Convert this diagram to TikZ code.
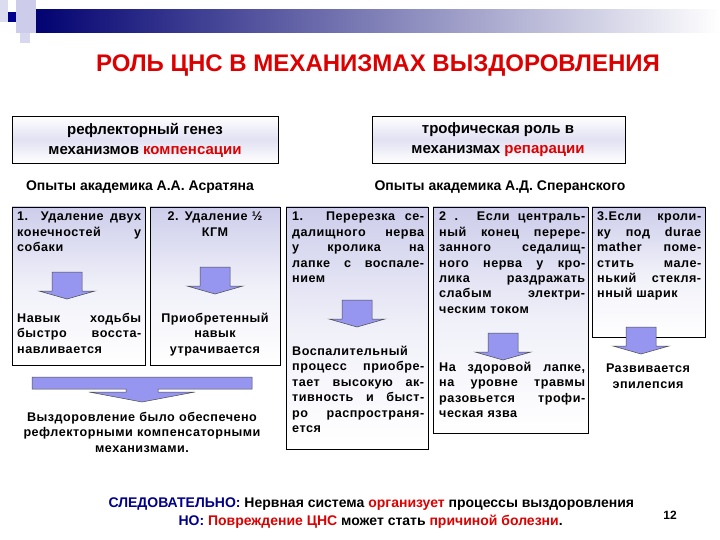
\documentclass[tikz,border=0pt]{standalone}
\usepackage{fontspec}
\setmainfont{Liberation Sans}
\definecolor{lav}{RGB}{205,205,235}
\definecolor{arr}{RGB}{150,150,240}
\definecolor{navy}{RGB}{0,0,140}
\definecolor{rd}{RGB}{220,0,0}
\newcommand\lb{\linebreak}
\begin{document}
\begin{tikzpicture}[x=1pt,y=-1pt,
  box/.style={draw=black,line width=0.8pt,top color=lav,bottom color=white,middle color=white!70!lav},
  hbox/.style={draw=black,line width=0.8pt,top color=white,bottom color=white,middle color=lav!60},
  txt/.style={font=\fontsize{12.6}{15.4}\selectfont\bfseries\addfontfeature{LetterSpace=4},align=justify,anchor=north west,inner sep=0pt},
  ctxt/.style={font=\fontsize{12.6}{15.4}\selectfont\bfseries\addfontfeature{LetterSpace=4},align=center,anchor=north,inner sep=0pt},
  darr/.pic={\draw[draw=black!70,fill=arr,line width=0.5pt] (-15,-14) -- (15,-14) -- (15,5) -- (28,5) -- (0,13) -- (-28,5) -- (-15,5) -- cycle;}]
\useasboundingbox (0,0) rectangle (720,540);
\fill[white] (0,0) rectangle (720,540);
% header
\shade[left color=navy!80!black,right color=white] (30,10) rectangle (720,33);
\fill[lav!70] (0,0) rectangle (8,22);
\fill[lav] (16,0) rectangle (36,33);
\fill[navy] (8,12) rectangle (16,22);
\fill[lav!80] (20,33) rectangle (30,43);
\node[font=\fontsize{24}{26}\selectfont\bfseries,text=rd] (title) at (378,66) {РОЛЬ ЦНС В МЕХАНИЗМАХ ВЫЗДОРОВЛЕНИЯ};
% headers
\draw[hbox] (12,116) rectangle (278,163);
\node[font=\fontsize{15}{20}\selectfont\bfseries,align=center] (ha) at (145,140) {рефлекторный генез\\механизмов \textcolor{rd}{компенсации}};
\draw[hbox] (372,116) rectangle (625,163);
\node[font=\fontsize{15}{20}\selectfont\bfseries,align=center] (hb) at (498,140) {трофическая роль в\\механизмах \textcolor{rd}{репарации}};
\node[font=\fontsize{14}{16}\selectfont\bfseries] (la) at (140,187) {Опыты академика А.А. Асратяна};
\node[font=\fontsize{14}{16}\selectfont\bfseries] (lb) at (500,187) {Опыты академика А.Д. Сперанского};
% boxes
\draw[box] (12,207) rectangle (145,365);
\draw[box] (150,207) rectangle (280,365);
\draw[box] (286,207) rectangle (428,449);
\draw[box] (433,207) rectangle (588,433);
\draw[box] (592,207) rectangle (705,337);
% box1
\node[txt,text width=124] (t1) at (17,212) {1. Удаление двух\lb конечностей у\lb собаки};
\pic at (67,286) {darr};
\node[txt,text width=124] (r1) at (17,313) {Навык ходьбы\lb быстро восста-\lb навливается};
% box2
\node[ctxt,text width=124] (t2) at (215,212) {2. Удаление ½\\КГМ};
\pic at (215,281) {darr};
\node[ctxt,text width=124] (r2) at (215,313) {Приобретенный\\навык\\утрачивается};
% box3
\node[txt,text width=132] (t3) at (292,212) {1. Перерезка се-\lb далищного нерва\lb у кролика на\lb лапке с воспале-\lb нием};
\pic at (357,314) {darr};
\node[txt,text width=132] (r3) at (292,346) {Воспалительный\lb процесс приобре-\lb тает высокую ак-\lb тивность и быст-\lb ро распространя-\lb ется};
% box4
\node[txt,text width=146] (t4) at (439,212) {2 . Если централь-\lb ный конец перере-\lb занного седалищ-\lb ного нерва у кро-\lb лика раздражать\lb слабым электри-\lb ческим током};
\pic at (503,347) {darr};
\node[txt,text width=146] (r4) at (439,362) {На здоровой лапке,\lb на уровне травмы\lb разовьется трофи-\lb ческая язва};
% box5
\node[txt,text width=104] (t5) at (597,212) {3.Если кроли-\lb ку под durae\lb mather поме-\lb стить мале-\lb нький стекля-\lb нный шарик};
\pic at (641,341) {darr};
\node[ctxt,text width=110] (r5) at (648,364) {Развивается\\эпилепсия};
% big arrow
\draw[draw=black!70,fill=arr,line width=0.5pt] (32,377) -- (252,377) -- (252,389) -- (158,389) -- (158,392) -- (195,392) -- (142,402) -- (89,392) -- (126,392) -- (126,389) -- (32,389) -- cycle;
\node[ctxt,text width=280] (res) at (142,412) {Выздоровление было обеспечено\\рефлекторными компенсаторными\\механизмами.};
% bottom
\node[font=\fontsize{14}{16}\selectfont\bfseries,anchor=west] (c1) at (105,504) {\textcolor{navy}{СЛЕДОВАТЕЛЬНО:} Нервная система \textcolor{rd}{организует} процессы выздоровления};
\node[font=\fontsize{14}{16}\selectfont\bfseries,anchor=west] (c2) at (175,522) {\textcolor{navy}{НО:} \textcolor{rd}{Повреждение ЦНС} может стать \textcolor{rd}{причиной болезни}.};
\node[font=\fontsize{12}{14}\selectfont\bfseries] (pg) at (670,515) {12};
\end{tikzpicture}
\end{document}
